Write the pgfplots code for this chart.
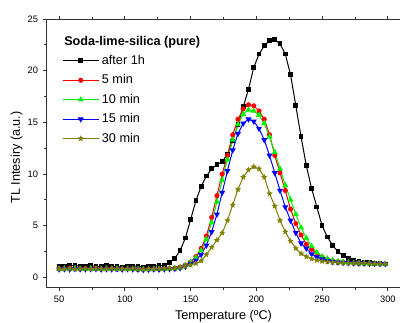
\documentclass[border=0pt]{standalone}
\usepackage{fontspec}
\setmainfont{Liberation Sans}
\usepackage{pgfplots}
\pgfplotsset{compat=1.18}
\usepackage{pgfplotstable}
\pgfdeclareplotmark{fstar}{%
 \pgfpathmoveto{\pgfpointpolar{90}{\pgfplotmarksize}}%
 \pgfpathlineto{\pgfpointpolar{126}{0.45\pgfplotmarksize}}%
 \pgfpathlineto{\pgfpointpolar{162}{\pgfplotmarksize}}%
 \pgfpathlineto{\pgfpointpolar{198}{0.45\pgfplotmarksize}}%
 \pgfpathlineto{\pgfpointpolar{234}{\pgfplotmarksize}}%
 \pgfpathlineto{\pgfpointpolar{270}{0.45\pgfplotmarksize}}%
 \pgfpathlineto{\pgfpointpolar{306}{\pgfplotmarksize}}%
 \pgfpathlineto{\pgfpointpolar{342}{0.45\pgfplotmarksize}}%
 \pgfpathlineto{\pgfpointpolar{18}{\pgfplotmarksize}}%
 \pgfpathlineto{\pgfpointpolar{54}{0.45\pgfplotmarksize}}%
 \pgfpathclose\pgfusepathqfillstroke}
\definecolor{olivec}{RGB}{128,128,0}
\definecolor{greenc}{RGB}{0,240,0}
\pgfplotstableread{
T k r g b o
50 1.10 0.85 0.80 0.78 0.82
54 1.05 0.82 0.84 0.80 0.80
58 1.12 0.88 0.80 0.76 0.84
62 1.15 0.84 0.86 0.82 0.80
66 1.05 0.80 0.82 0.80 0.83
70 1.08 0.86 0.80 0.78 0.82
74 1.12 0.83 0.85 0.80 0.80
78 1.06 0.88 0.80 0.82 0.84
82 1.02 0.80 0.78 0.77 0.82
86 1.12 0.84 0.83 0.80 0.80
90 1.05 0.86 0.80 0.78 0.84
94 1.03 0.82 0.84 0.80 0.80
98 1.00 0.80 0.79 0.77 0.82
102 1.08 0.85 0.82 0.80 0.80
106 1.06 0.83 0.80 0.78 0.84
110 1.10 0.78 0.80 0.76 0.78
114 1.00 0.76 0.76 0.72 0.75
118 1.04 0.80 0.78 0.75 0.78
122 1.08 0.82 0.80 0.78 0.80
126 1.12 0.80 0.79 0.76 0.82
130 1.20 0.82 0.80 0.78 0.84
134 1.40 0.85 0.84 0.80 0.84
138 1.85 0.90 0.88 0.84 0.87
142 2.60 1.00 0.95 0.90 0.95
146 3.80 1.20 1.15 1.05 1.05
150 5.60 1.50 1.45 1.30 1.20
154 7.40 2.00 1.90 1.65 1.35
158 8.80 2.80 2.60 2.20 1.60
162 9.80 4.00 3.70 3.10 2.20
166 10.50 5.80 5.30 4.40 2.90
170 10.90 7.90 7.30 6.10 3.60
174 11.20 10.00 9.40 8.20 4.30
178 11.90 11.80 11.40 10.30 5.50
182 13.20 13.80 13.30 12.30 7.00
186 14.80 15.30 14.80 13.90 8.50
190 16.50 16.30 15.80 14.90 9.70
194 18.20 16.70 16.20 15.30 10.40
198 20.30 16.60 16.10 15.10 10.70
202 21.60 16.10 15.70 14.40 10.50
206 22.40 15.30 14.90 13.30 9.70
210 22.90 13.80 13.60 11.80 8.10
214 23.00 11.80 12.10 10.10 6.90
218 22.60 10.10 10.50 8.40 5.50
222 21.60 8.40 8.90 6.80 4.40
226 19.60 6.60 7.50 5.50 3.50
230 16.60 5.20 6.10 4.30 2.80
234 13.60 4.10 4.80 3.30 2.30
238 10.80 3.20 3.80 2.80 2.00
242 8.60 2.70 3.00 2.25 1.80
246 6.80 2.30 2.40 1.95 1.65
250 5.00 1.95 2.00 1.75 1.55
254 3.90 1.75 1.80 1.60 1.50
258 3.10 1.60 1.65 1.50 1.45
262 2.50 1.50 1.55 1.45 1.42
266 2.10 1.45 1.48 1.42 1.40
270 1.85 1.40 1.44 1.40 1.38
274 1.65 1.38 1.40 1.38 1.36
278 1.55 1.36 1.38 1.36 1.35
282 1.45 1.35 1.36 1.35 1.34
286 1.40 1.33 1.35 1.33 1.33
290 1.35 1.32 1.33 1.32 1.32
294 1.32 1.31 1.32 1.31 1.31
298 1.30 1.30 1.30 1.30 1.30
}\data
\begin{document}
\begin{tikzpicture}
\begin{axis}[
  name=ax,
  scale only axis, width=266.25pt, height=201.5pt,
  xmin=40, xmax=310, ymin=-1, ymax=25,
  xtick={50,100,...,300}, minor x tick num=1,
  ytick={0,5,...,25}, minor y tick num=1,
  tick align=outside, major tick length=2.5pt, minor tick length=1.5pt,
  axis line style={line width=0.7pt, black!80},
  tick style={line width=0.6pt, black!80},
  ticklabel style={font=\fontsize{7}{8}\selectfont},
  /pgf/number format/assume math mode=true,
  xlabel={Temperature (ºC)},
  ylabel={TL Intesiry (a.u.)},
  label style={font=\fontsize{9.5}{11}\selectfont},
  xlabel style={at={(rel axis cs:0.5,0)}, anchor=base, yshift=-23.8pt},
  ylabel style={at={(rel axis cs:0,0.485)}, anchor=center, rotate=0, yshift=22pt},
  legend style={at={(rel axis cs:0.045,0.876)}, anchor=north west, draw=none, fill=none,
    font=\fontsize{9.5}{11}\selectfont, row sep=2.2pt, inner sep=0pt},
  legend cell align=left,
  legend image code/.code={\draw[mark repeat=2,mark phase=2] plot coordinates {(0pt,0pt) (13.5pt,0pt) (27pt,0pt)};},
  every axis plot/.append style={line width=0.75pt},
]
\addplot[black, mark=square*, mark size=1.4pt] table[x=T,y=k] {\data};
\addlegendentry{after 1h}
\addplot[red, mark=*, mark size=1.5pt] table[x=T,y=r] {\data};
\addlegendentry{5 min}
\addplot[greenc, mark=triangle*, mark size=1.9pt] table[x=T,y=g] {\data};
\addlegendentry{10 min}
\addplot[blue, mark=triangle*, mark size=1.9pt, mark options={rotate=180}] table[x=T,y=b] {\data};
\addlegendentry{15 min}
\addplot[olivec, mark=fstar, mark size=2pt, mark options={line width=0.3pt}] table[x=T,y=o] {\data};
\addlegendentry{30 min}
\node[anchor=west, font=\bfseries\fontsize{9.5}{11}\selectfont, inner sep=0pt] at (rel axis cs:0.0507,0.9144) {Soda-lime-silica (pure)};
\end{axis}
\pgfresetboundingbox
\path[use as bounding box] ([xshift=-34.5pt,yshift=-26.5pt]ax.south west) rectangle ([xshift=-0.75pt,yshift=14.25pt]ax.north east);
\end{tikzpicture}
\end{document}
